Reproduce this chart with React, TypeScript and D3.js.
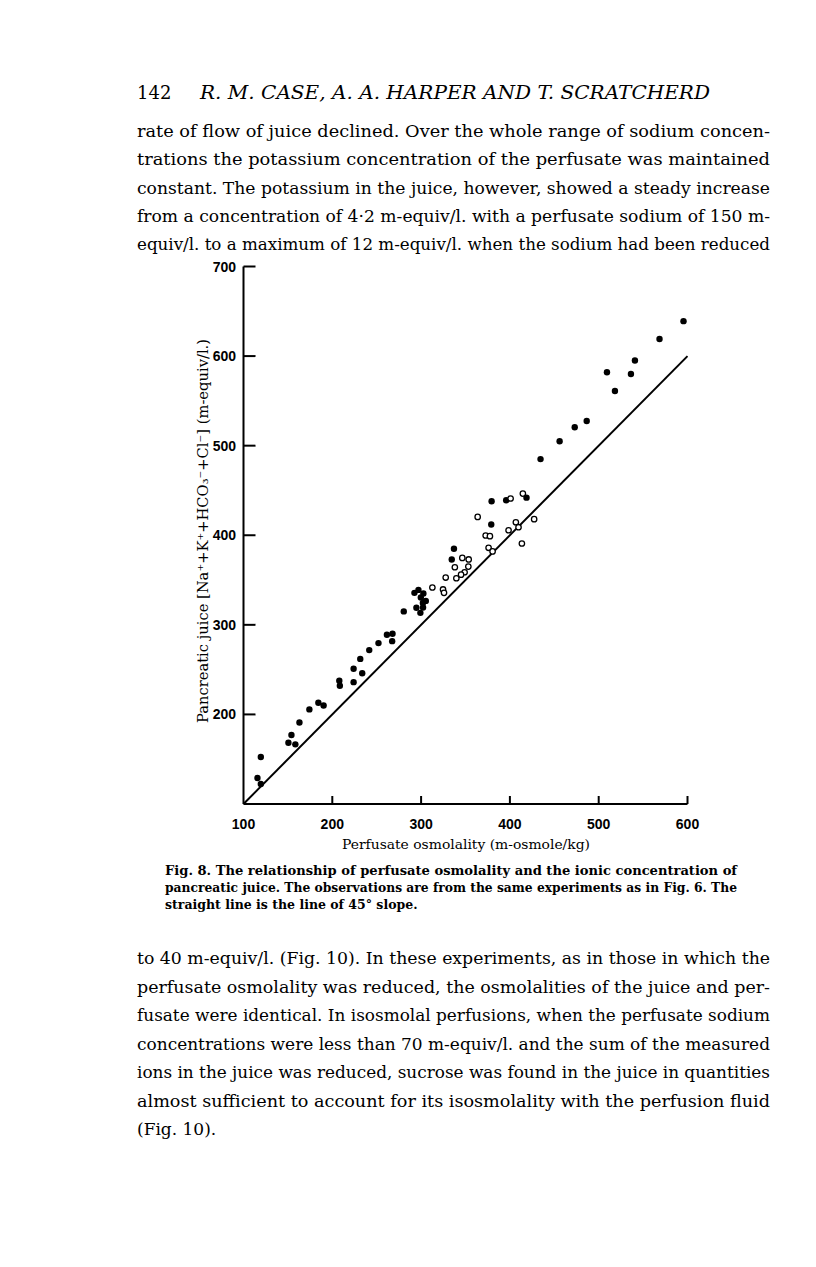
import React from "react";
import * as d3 from "d3";

// Fig. 8 — perfusate osmolality vs ionic concentration of pancreatic juice
const xTicks = [200, 300, 400, 500, 600];
const yTicks = [200, 300, 400, 500, 600, 700];
const xTickLabels = [100, 200, 300, 400, 500, 600];

// filled circles [osmolality, ion sum]
const filledPoints: [number, number][] = [
  [595.5, 639], [568.5, 619], [540.8, 595], [509.3, 582], [536.3, 580],
  [518.3, 561], [486.5, 527.5], [473, 520.5], [456, 505], [434.5, 485],
  [379.4, 438], [395.8, 439], [418.7, 442], [379, 412], [337, 385],
  [334.5, 373], [292.5, 335.7], [297, 339], [302.6, 335], [299.7, 330.5],
  [305.3, 326.7], [302, 324.5], [294.7, 319], [302.2, 319.4], [299.2, 313.4],
  [280.5, 315], [267.8, 290], [261.5, 289], [267.4, 281.8], [252, 279.6],
  [241.6, 271.8], [231.5, 262], [224, 251], [233.7, 246], [224, 236],
  [207.9, 237.5], [208.5, 232], [184.3, 213], [190.2, 210], [174.2, 205.6],
  [163, 191], [154, 177], [150.6, 168.4], [158.4, 166.6], [119.5, 152.4],
  [115.7, 129], [119.5, 122.3],
];

// open circles
const openPoints: [number, number][] = [
  [400.8, 441], [414.6, 446.5], [363.7, 420.5], [372.7, 399.7], [377.5, 399],
  [406.7, 414.5], [409.7, 409], [398.5, 405.6], [427.3, 418], [413.5, 390.8],
  [376, 386], [380.5, 382], [346.4, 374.7], [353.6, 373], [338, 364.3],
  [353.2, 365], [349, 358.7], [345, 356], [339.7, 352], [327.7, 352.8],
  [312.7, 341.7], [324.7, 339.5], [325.8, 335.7],
];

// line of 45 degree slope
const identityLine: [number, number][] = [
  [100, 100],
  [600, 600],
];

const topLines = [
  "rate of flow of juice declined. Over the whole range of sodium concen-",
  "trations the potassium concentration of the perfusate was maintained",
  "constant. The potassium in the juice, however, showed a steady increase",
  "from a concentration of 4·2 m-equiv/l. with a perfusate sodium of 150 m-",
  "equiv/l. to a maximum of 12 m-equiv/l. when the sodium had been reduced",
];

const captionLines = [
  "Fig. 8. The relationship of perfusate osmolality and the ionic concentration of",
  "pancreatic juice. The observations are from the same experiments as in Fig. 6. The",
  "straight line is the line of 45° slope.",
];

const bottomLines = [
  "to 40 m-equiv/l. (Fig. 10). In these experiments, as in those in which the",
  "perfusate osmolality was reduced, the osmolalities of the juice and per-",
  "fusate were identical. In isosmolal perfusions, when the perfusate sodium",
  "concentrations were less than 70 m-equiv/l. and the sum of the measured",
  "ions in the juice was reduced, sucrose was found in the juice in quantities",
  "almost sufficient to account for its isosmolality with the perfusion fluid",
  "(Fig. 10).",
];

const serif = "'DejaVu Serif', 'Liberation Serif', serif";
const sans = "'Liberation Sans', 'DejaVu Sans', sans-serif";

export default function App() {
  const width = 816;
  const height = 1267;

  const x = d3.scaleLinear().domain([100, 600]).range([243.5, 687.5]);
  const y = d3.scaleLinear().domain([100, 700]).range([804, 266.5]);

  const line = d3
    .line<[number, number]>()
    .x((d) => x(d[0]))
    .y((d) => y(d[1]));

  const textLeft = 137;
  const textWidth = 633;

  return (
    <svg
      width={width}
      height={height}
      style={{ position: "absolute", left: 0, top: 0, background: "#fff" }}
    >
      {/* running head */}
      <text x={textLeft} y={99} fontFamily={serif} fontSize={18}>
        142
      </text>
      <text
        x={200}
        y={99}
        fontFamily={serif}
        fontSize={19}
        fontStyle="italic"
        textLength={510}
        lengthAdjust="spacingAndGlyphs"
      >
        R. M. CASE, A. A. HARPER AND T. SCRATCHERD
      </text>

      {topLines.map((t, i) => (
        <text
          key={"t" + i}
          x={textLeft}
          y={137 + i * 28.3}
          fontFamily={serif}
          fontSize={17}
          textLength={textWidth}
          lengthAdjust="spacingAndGlyphs"
        >
          {t}
        </text>
      ))}

      {/* axes */}
      <g stroke="#000" strokeWidth={2} fill="none">
        <line x1={x(100)} x2={x(600)} y1={y(100)} y2={y(100)} />
        <line x1={x(100)} x2={x(100)} y1={y(100)} y2={y(700)} />
        {xTicks.map((t) => (
          <line key={"xt" + t} x1={x(t)} x2={x(t)} y1={y(100)} y2={y(100) - 8} />
        ))}
        {yTicks.map((t) => (
          <line key={"yt" + t} x1={x(100)} x2={x(100) + 12} y1={y(t)} y2={y(t)} />
        ))}
        <path d={line(identityLine) || ""} />
      </g>

      {xTickLabels.map((t) => (
        <text
          key={"xl" + t}
          x={x(t)}
          y={829}
          textAnchor="middle"
          fontFamily={sans}
          fontWeight="bold"
          fontSize={14}
        >
          {t}
        </text>
      ))}
      {yTicks.map((t) => (
        <text
          key={"yl" + t}
          x={236}
          y={y(t) + 5}
          textAnchor="end"
          fontFamily={sans}
          fontWeight="bold"
          fontSize={14}
        >
          {t}
        </text>
      ))}

      {/* data */}
      {filledPoints.map((p, i) => (
        <circle key={"f" + i} cx={x(p[0])} cy={y(p[1])} r={3.2} fill="#000" />
      ))}
      {openPoints.map((p, i) => (
        <circle
          key={"o" + i}
          cx={x(p[0])}
          cy={y(p[1])}
          r={2.7}
          fill="#fff"
          stroke="#000"
          strokeWidth={1.3}
        />
      ))}

      {/* axis titles */}
      <text
        x={466}
        y={849}
        textAnchor="middle"
        fontFamily={serif}
        fontSize={13.5}
        textLength={248}
        lengthAdjust="spacingAndGlyphs"
      >
        Perfusate osmolality (m-osmole/kg)
      </text>
      <text
        transform={`translate(208,${531}) rotate(-90)`}
        textAnchor="middle"
        fontFamily={serif}
        fontSize={14}
        textLength={384}
        lengthAdjust="spacingAndGlyphs"
      >
        Pancreatic juice [Na⁺+K⁺+HCO₃⁻+Cl⁻] (m-equiv/l.)
      </text>

      {/* caption */}
      {captionLines.map((t, i) => (
        <text
          key={"c" + i}
          x={165}
          y={875 + i * 17}
          fontFamily={serif}
          fontSize={12.5}
          fontWeight={600}
          textLength={i < 2 ? 572 : undefined}
          lengthAdjust="spacingAndGlyphs"
        >
          {t}
        </text>
      ))}

      {bottomLines.map((t, i) => (
        <text
          key={"b" + i}
          x={textLeft}
          y={964 + i * 28.5}
          fontFamily={serif}
          fontSize={17}
          textLength={i < bottomLines.length - 1 ? textWidth : undefined}
          lengthAdjust="spacingAndGlyphs"
        >
          {t}
        </text>
      ))}
    </svg>
  );
}
